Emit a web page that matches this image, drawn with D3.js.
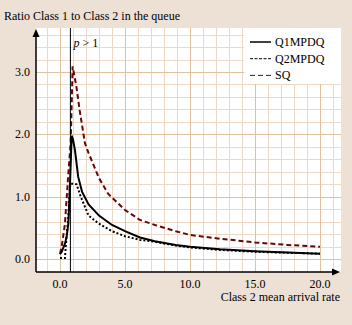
<!DOCTYPE html>
<html>
<head>
<meta charset="utf-8">
<script src="https://cdn.jsdelivr.net/npm/d3@7"></script>
<style>
    body { margin: 0; background: #ede1d5; }
    svg { display: block; font-family: "Liberation Serif", "DejaVu Serif", serif; }
</style>
</head>
<body>
<svg id="chart" width="352" height="325"></svg>
<script>
// values
var xTicks = [0, 5, 10, 15, 20];
var yTicks = [0, 1, 2, 3];
var pThreshold = 0.8;

var q1Rate = [0, 0.13, 0.38, 0.51, 0.64, 0.75, 0.9, 1.0, 1.15, 1.4, 1.7, 2.2, 3, 4, 5, 6.15, 7.3, 8.9, 10, 12.3, 15, 17.5, 20];
var q1Ratio = [0.08, 0.12, 0.25, 0.36, 0.57, 1.1, 1.98, 1.92, 1.75, 1.32, 1.08, 0.88, 0.7, 0.55, 0.45, 0.35, 0.29, 0.23, 0.2, 0.16, 0.13, 0.11, 0.09];

var q2Rate = [0, 0.38, 0.5, 0.65, 0.77, 0.82, 1.08, 1.28, 1.6, 2.2, 3, 4, 5, 6.15, 7.3, 8.9, 10, 12.3, 15, 17.5, 20];
var q2Ratio = [0.02, 0.02, 0.36, 0.7, 1.16, 1.21, 1.21, 1.2, 1.0, 0.7, 0.57, 0.45, 0.37, 0.31, 0.28, 0.22, 0.19, 0.15, 0.12, 0.105, 0.09];

var sqRate = [0, 0.13, 0.38, 0.64, 0.82, 0.9, 0.97, 1.1, 1.28, 1.5, 1.92, 2.2, 3, 3.7, 5, 6.15, 7.3, 8.9, 10, 12.3, 15, 17.5, 20];
var sqRatio = [0.09, 0.2, 0.57, 1.37, 1.86, 2.5, 3.09, 2.95, 2.74, 2.4, 1.86, 1.7, 1.3, 1.05, 0.79, 0.63, 0.55, 0.45, 0.39, 0.33, 0.27, 0.23, 0.2];

var seriesNames = ["Q1MPDQ", "Q2MPDQ", "SQ"];

var svg = d3.select("#chart");

// plot box ("top" is taken by window.top, so prefix everything)
var boxLeft = 36, boxRight = 341, boxTop = 28, boxBottom = 272;

var xScale = d3.scaleLinear().domain([0, 20]).range([60, 320]);
var yScale = d3.scaleLinear().domain([0, 3]).range([259.3, 72]);

var styles = {
    "Q1MPDQ": {color: "#000", dash: null, width: 2},
    "Q2MPDQ": {color: "#000", dash: "2,2", width: 2},
    "SQ": {color: "#6a0606", dash: "5,3", width: 2}
};

/**
 * white plot area, then the grid as two single paths (minor and major)
 */
function drawGrid()
{
    svg.append("rect")
            .attr("x", boxLeft).attr("y", boxTop)
            .attr("width", boxRight - boxLeft).attr("height", boxBottom - boxTop)
            .attr("fill", "#ffffff");
}

function drawGridLines()
{
    var minorPath = d3.path(), majorPath = d3.path();

    d3.range(-1, 22, 1).forEach(function(d) {
        var px = Math.round(xScale(d)) + 0.5;
        var p = (d % 5 === 0) ? majorPath : minorPath;
        p.moveTo(px, boxTop);
        p.lineTo(px, boxBottom);
    });
    d3.range(-1, 19, 1).forEach(function(k) {
        var py = Math.round(yScale(k / 5)) + 0.5;
        var p = (k % 5 === 0) ? majorPath : minorPath;
        p.moveTo(boxLeft, py);
        p.lineTo(boxRight, py);
    });

    svg.append("path")
            .attr("d", minorPath.toString())
            .attr("fill", "none")
            .attr("stroke", "#ecd8c4")
            .attr("stroke-width", 1)
            .attr("shape-rendering", "crispEdges");
    svg.append("path")
            .attr("d", majorPath.toString())
            .attr("fill", "none")
            .attr("stroke", "#dfc29d")
            .attr("stroke-width", 1)
            .attr("shape-rendering", "crispEdges");
}

/**
 * axes with arrow heads, tick labels only
 */
function drawAxes()
{
    svg.append("line")
            .attr("x1", boxLeft).attr("x2", boxLeft)
            .attr("y1", boxTop + 4).attr("y2", boxBottom)
            .style("stroke", "#000").style("stroke-width", "1.5px");
    svg.append("line")
            .attr("x1", boxLeft).attr("x2", boxRight - 4)
            .attr("y1", boxBottom).attr("y2", boxBottom)
            .style("stroke", "#000").style("stroke-width", "1.5px");

    svg.append("path")
            .attr("d", "M" + boxLeft + "," + (boxTop + 1) + "l-3.5,8h7z")
            .style("fill", "#000");
    svg.append("path")
            .attr("d", "M" + (boxRight - 1) + "," + boxBottom + "l-8,-3.5v7z")
            .style("fill", "#000");

    svg.selectAll(".xlab").data(xTicks).enter().append("text")
            .attr("x", function(d) { return xScale(d); })
            .attr("y", 288)
            .attr("text-anchor", "middle")
            .style("font-size", "12px")
            .text(function(d) { return d3.format(".1f")(d); });

    svg.selectAll(".ylab").data(yTicks).enter().append("text")
            .attr("x", 30)
            .attr("y", function(d) { return yScale(d) + 4; })
            .attr("text-anchor", "end")
            .style("font-size", "12px")
            .text(function(d) { return d3.format(".1f")(d); });

    svg.append("text")
            .attr("x", 4).attr("y", 20)
            .style("font-size", "12px")
            .text("Ratio Class 1 to Class 2 in the queue");

    svg.append("text")
            .attr("x", 340).attr("y", 301)
            .attr("text-anchor", "end")
            .style("font-size", "12px")
            .text("Class 2 mean arrival rate");
}

/**
 * vertical marker where p goes above one
 */
function drawThreshold()
{
    svg.append("line")
            .attr("x1", xScale(pThreshold)).attr("x2", xScale(pThreshold))
            .attr("y1", boxTop).attr("y2", boxBottom)
            .style("stroke", "#000").style("stroke-width", "1px");

    var t = svg.append("text")
            .attr("x", xScale(pThreshold) + 3).attr("y", 47)
            .style("font-size", "12px");
    t.append("tspan").style("font-style", "italic").text("p");
    t.append("tspan").text(" > 1");
}

function drawSeries(name, rates, ratios)
{
    var pts = rates.map(function(r, i) { return [r, ratios[i]]; });
    var line = d3.line()
            .x(function(d) { return xScale(d[0]); })
            .y(function(d) { return yScale(d[1]); });
    var s = styles[name];

    svg.append("path")
            .datum(pts)
            .attr("d", line)
            .style("fill", "none")
            .style("stroke", s.color)
            .style("stroke-width", s.width + "px")
            .style("stroke-dasharray", s.dash);
}

function drawLegend()
{
    svg.append("rect")
            .attr("x", 244).attr("y", boxTop)
            .attr("width", boxRight - 244).attr("height", 56)
            .style("fill", "#fff");

    seriesNames.forEach(function(name, i) {
        var ly = 42 + i * 16.7;
        var s = styles[name];
        svg.append("line")
                .attr("x1", 250).attr("x2", 271)
                .attr("y1", ly).attr("y2", ly)
                .style("stroke", s.color)
                .style("stroke-width", name === "Q1MPDQ" ? "1.5px" : "1px")
                .style("stroke-dasharray", name === "Q2MPDQ" ? "3,1.5" : (name === "SQ" ? "5,3" : null));
        svg.append("text")
                .attr("x", 275).attr("y", ly + 4)
                .style("font-size", "12px")
                .text(name);
    });
}

drawGrid();
drawGridLines();
drawSeries("SQ", sqRate, sqRatio);
drawSeries("Q2MPDQ", q2Rate, q2Ratio);
drawSeries("Q1MPDQ", q1Rate, q1Ratio);
drawThreshold();
drawLegend();
drawAxes();
</script>
</body>
</html>
